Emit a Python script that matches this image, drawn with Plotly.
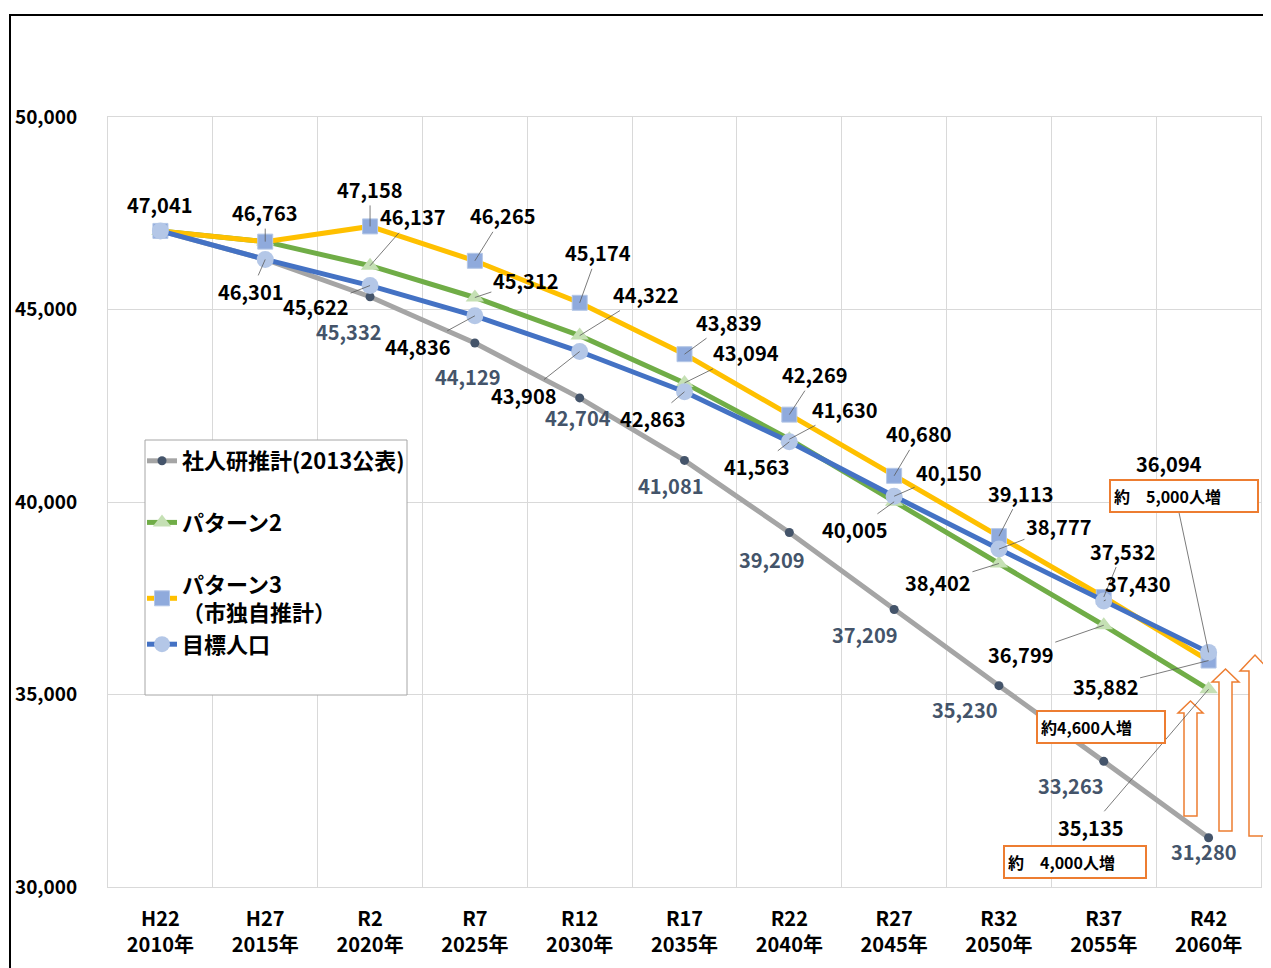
import plotly.graph_objects as go

# ---- data ----
years = ["H22<br>2010年", "H27<br>2015年", "R2<br>2020年", "R7<br>2025年", "R12<br>2030年",
         "R17<br>2035年", "R22<br>2040年", "R27<br>2045年", "R32<br>2050年", "R37<br>2055年",
         "R42<br>2060年"]
shajinken = [47041, 46301, 45332, 44129, 42704, 41081, 39209, 37209, 35230, 33263, 31280]
pattern2 = [47041, 46763, 46137, 45312, 44322, 43094, 41630, 40005, 38402, 36799, 35135]
pattern3 = [47041, 46763, 47158, 46265, 45174, 43839, 42269, 40680, 39113, 37532, 35882]
mokuhyo = [47041, 46301, 45622, 44836, 43908, 42863, 41563, 40150, 38777, 37430, 36094]
y_ticks = [30000, 35000, 40000, 45000, 50000]

# page has an 8px body margin, so the figure is 8px smaller than the window
W, H = 1263, 960
L, R, T, B = 100, 10, 109, 81
FONT = "Noto Sans CJK JP"


# convert window pixel positions to paper coords
def px(x):
    return (x - 8 - L) / (W - L - R)


def py(y):
    return (H - B - (y - 8)) / (H - T - B)


fig = go.Figure()

fig.add_trace(go.Scatter(x=years, y=shajinken, name="社人研推計(2013公表)", legendgroup="a",
                         mode="lines+markers", line=dict(color="#A5A5A5", width=5),
                         marker=dict(symbol="circle", size=9, color="#44546A")))
fig.add_trace(go.Scatter(x=years, y=pattern2, name="パターン2", legendgroup="b",
                         mode="lines+markers", line=dict(color="#70AD47", width=5),
                         marker=dict(symbol="triangle-up", size=16, color="#C5E0B4")))
fig.add_trace(go.Scatter(x=years, y=pattern3, name="パターン3<br>（市独自推計）", legendgroup="c",
                         mode="lines+markers", line=dict(color="#FFC000", width=5),
                         marker=dict(symbol="square", size=15, color="#8FAADC",
                                     line=dict(color="#B4C7E7", width=1))))
fig.add_trace(go.Scatter(x=years, y=mokuhyo, name="目標人口", legendgroup="c",
                         mode="lines+markers", line=dict(color="#4472C4", width=5),
                         marker=dict(symbol="circle", size=17, color="#B4C7E7")))

# label offsets (dx, dy, leader) per index
off_gray = {2: (-21, 35), 3: (-7, 33), 4: (-2, 20), 5: (-14, 25), 6: (-17, 27),
            7: (-29, 25), 8: (-34, 24), 9: (-33, 24), 10: (-5, 14)}
off_green = {0: (0, -26, False), 2: (43, -49, True), 3: (51, -17, True), 4: (66, -41, True),
             5: (61, -30, True), 6: (56, -30, True), 7: (-39, 28, True), 8: (-61, 19, True),
             9: (-83, 29, True), 10: (-118, 138, True)}
off_yellow = {1: (0, -29, True), 2: (0, -37, True), 3: (28, -45, True), 4: (18, -50, True),
              5: (44, -32, True), 6: (26, -40, True), 7: (25, -42, True), 8: (22, -43, True),
              9: (19, -46, True), 10: (-103, 26, True)}
off_blue = {1: (-14, 32, True), 2: (-54, 21, True), 3: (-57, 31, True), 4: (-56, 44, True),
            5: (-32, 27, True), 6: (-32, 25, True), 7: (55, -24, True), 8: (60, -23, True),
            9: (34, -17, True), 10: (-40, -189, True)}

LBL = 20
ann = []
for i, (dx, dy) in off_gray.items():
    ann.append(dict(x=years[i], y=shajinken[i], text=f"{shajinken[i]:,}", showarrow=False,
                    xshift=dx, yshift=-dy,
                    font=dict(family=FONT, size=LBL, color="#44546A", weight="bold")))
for series, offs in ((pattern2, off_green), (pattern3, off_yellow), (mokuhyo, off_blue)):
    for i, (dx, dy, lead) in offs.items():
        if lead:
            ann.append(dict(x=years[i], y=series[i], text=f"{series[i]:,}", showarrow=True,
                            ax=dx, ay=dy, arrowhead=0, arrowwidth=0.8, arrowcolor="#595959",
                            standoff=0, startstandoff=0,
                            font=dict(family=FONT, size=LBL, color="#000000", weight="bold")))
        else:
            ann.append(dict(x=years[i], y=series[i], text=f"{series[i]:,}", showarrow=False,
                            xshift=dx, yshift=-dy,
                            font=dict(family=FONT, size=LBL, color="#000000", weight="bold")))

# orange boxes
for text, cx, cy, bw in (("約　5,000人増", 1184, 496, 140), ("約4,600人増", 1101, 727, 120),
                         ("約　4,000人増", 1075, 862, 134)):
    ann.append(dict(x=px(cx), y=py(cy), xref="paper", yref="paper", text=text,
                    xanchor="center", yanchor="middle",
                    showarrow=False, bgcolor="white", bordercolor="#ED7D31", borderwidth=2,
                    borderpad=3, width=bw, align="left",
                    font=dict(family=FONT, size=16, color="#000000", weight="bold")))

shapes = []
# outer frame
shapes.append(dict(type="rect", xref="paper", yref="paper", x0=px(10), y0=py(15),
                   x1=px(1300), y1=py(1000), line=dict(color="#000000", width=2)))
# legend box (drawn as a shape so it can be taller than the entries)
shapes.append(dict(type="rect", xref="paper", yref="paper", x0=px(145), y0=py(695),
                   x1=px(407), y1=py(440), fillcolor="white", layer="above",
                   line=dict(color="#A6A6A6", width=1)))


def block_arrow(x0, x1, hx0, hx1, bottom, hbase, tip):
    cx = (hx0 + hx1) / 2
    pts = [(x0, bottom), (x0, hbase), (hx0, hbase), (cx, tip), (hx1, hbase), (x1, hbase),
           (x1, bottom)]
    d = "M " + " L ".join(f"{px(a):.5f},{py(b):.5f}" for a, b in pts) + " Z"
    return dict(type="path", xref="paper", yref="paper", path=d,
                fillcolor="white", line=dict(color="#ED7D31", width=1.5))


shapes.append(block_arrow(1184, 1197, 1178, 1203, 816, 713, 701))
shapes.append(block_arrow(1219, 1232, 1212, 1239, 831, 682, 669))
shapes.append(block_arrow(1249, 1264, 1240, 1270, 836, 671, 655))

fig.update_layout(
    width=W, height=H,
    margin=dict(l=L, r=R, t=T, b=B),
    paper_bgcolor="white", plot_bgcolor="white",
    font=dict(family=FONT, color="#000000"),
    showlegend=True,
    legend=dict(x=px(142), y=py(440), xanchor="left", yanchor="top",
                bgcolor="rgba(0,0,0,0)", borderwidth=0,
                font=dict(family=FONT, size=22, color="#000000", weight="bold"),
                tracegroupgap=30, itemwidth=30),
    xaxis=dict(type="category", tickson="boundaries", showgrid=True, gridcolor="#D9D9D9",
               gridwidth=1, ticks="", showline=True, linecolor="#D9D9D9", mirror=True,
               range=[-0.5, 10.5], ticklabelstandoff=14, automargin=False,
               tickfont=dict(family=FONT, size=20, color="#000000", weight="bold")),
    yaxis=dict(range=[30000, 50000], tickvals=y_ticks, tickformat=",", showgrid=True,
               gridcolor="#D9D9D9", gridwidth=1, ticks="", showline=True, linecolor="#D9D9D9",
               mirror=True, zeroline=False, ticklabelstandoff=26, automargin=False,
               tickfont=dict(family=FONT, size=19, color="#000000", weight="bold")),
    annotations=ann,
    shapes=shapes,
    hovermode=False,
)

fig.write_html("out.html")
